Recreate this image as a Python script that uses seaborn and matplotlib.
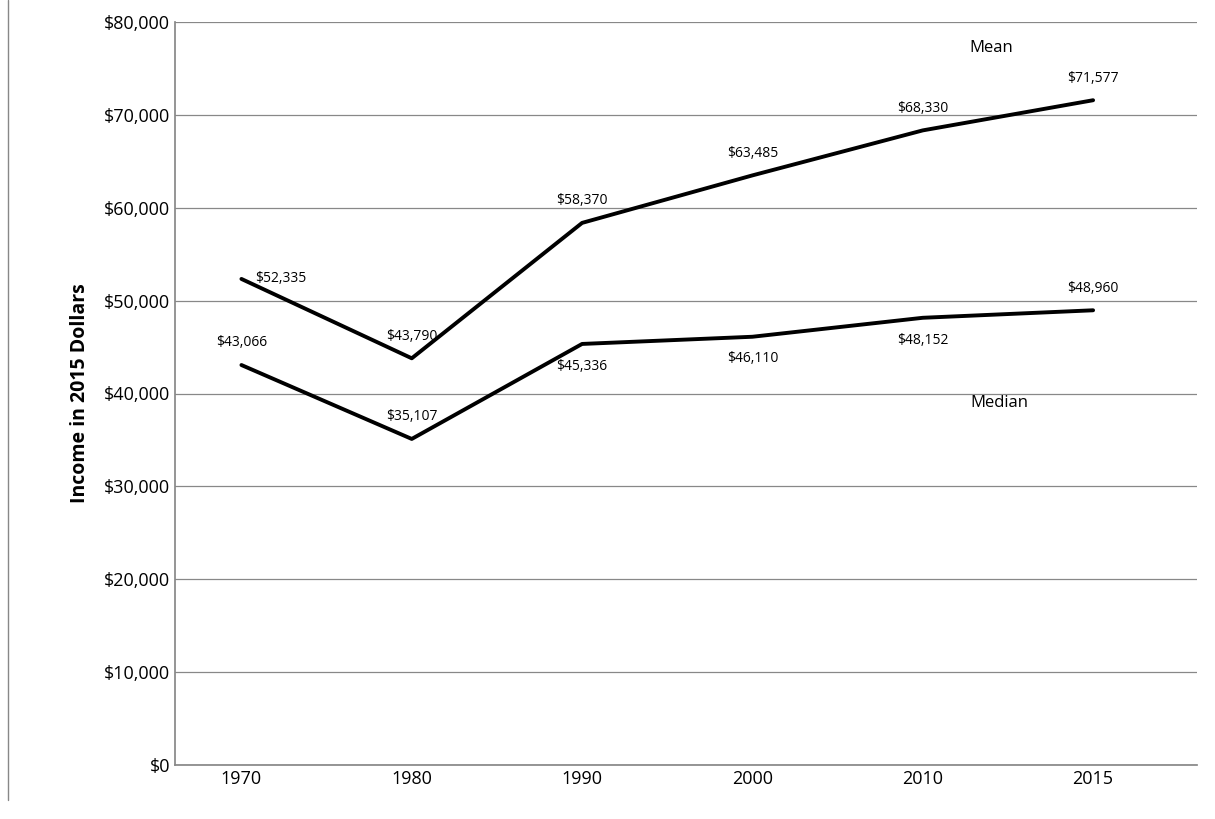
import matplotlib
matplotlib.use("Agg")
import matplotlib.pyplot as plt
import seaborn as sns
import pandas as pd
from matplotlib.ticker import FuncFormatter
from matplotlib.lines import Line2D

sns.set_theme(style="white")
plt.rcParams["font.family"] = ["Open Sans", "DejaVu Sans"]

years = ["1970", "1980", "1990", "2000", "2010", "2015"]
mean_income = [52335, 43790, 58370, 63485, 68330, 71577]
median_income = [43066, 35107, 45336, 46110, 48152, 48960]

# label offsets in points (dx, dy)
mean_offsets = [(28, 0), (0, 16), (0, 16), (0, 16), (0, 16), (0, 16)]
median_offsets = [(0, 16), (0, 16), (0, -16), (0, -16), (0, -16), (0, 16)]

df = pd.DataFrame({
    "Year": years * 2,
    "Income": mean_income + median_income,
    "Series": ["Mean"] * 6 + ["Median"] * 6,
})

fig = plt.figure(figsize=(12.15, 8.19), dpi=100)
ax = fig.add_axes([175 / 1215, 54 / 819, 1022 / 1215, 743 / 819])

sns.lineplot(data=df, x="Year", y="Income", units="Series", estimator=None,
             color="black", linewidth=2.8, ax=ax, sort=False)

for vals, offs in [(mean_income, mean_offsets), (median_income, median_offsets)]:
    for i, (v, (dx, dy)) in enumerate(zip(vals, offs)):
        ax.annotate(f"${v:,}", (i, v), xytext=(dx, dy), textcoords="offset points",
                    ha="center", va="center", fontsize=10, color="black")

ax.text(4.4, 77200, "Mean", fontsize=12, ha="center", va="center", color="black")
ax.text(4.45, 39000, "Median", fontsize=12, ha="center", va="center", color="black")

ax.set_xlim(-0.39, 5.61)
ax.set_ylim(0, 80000)
ax.set_yticks(range(0, 80001, 10000))
ax.yaxis.set_major_formatter(FuncFormatter(lambda v, p: f"${int(v):,}"))
ax.grid(axis="y", color="#888888", linewidth=0.9)
ax.tick_params(axis="both", labelsize=13, length=0, colors="black")
ax.set_xlabel("")
ax.set_ylabel("Income in 2015 Dollars", fontsize=14, fontweight="bold", labelpad=10, color="black")
for s in ["top", "right"]:
    ax.spines[s].set_visible(False)
ax.spines["left"].set_color("#888888")
ax.spines["bottom"].set_color("#888888")

fig.add_artist(Line2D([8 / 1215, 8 / 1215], [19 / 819, 1], color="#888888", linewidth=1))

fig.savefig("out.png", dpi=100)
